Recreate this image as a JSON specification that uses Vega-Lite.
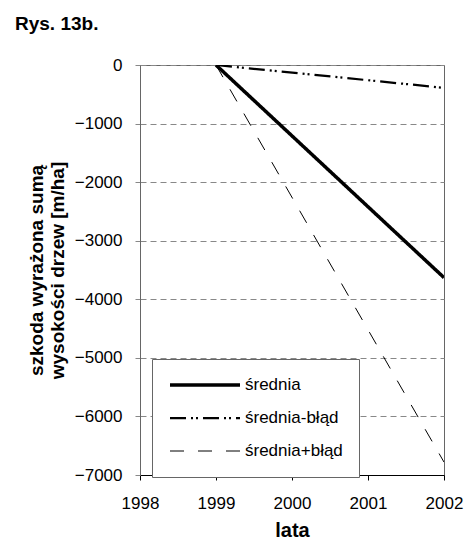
{
  "$schema": "https://vega.github.io/schema/vega-lite/v6.json",
  "width": 304,
  "height": 410,
  "autosize": {"type": "none"},
  "padding": {"left": 140, "top": 65, "right": 22, "bottom": 73},
  "background": "white",
  "config": {
    "font": "Liberation Sans",
    "view": {"stroke": "#666", "strokeWidth": 1}
  },
  "title": {
    "text": "Rys. 13b.",
    "anchor": "start",
    "frame": "group",
    "dx": -125,
    "dy": -18,
    "fontSize": 19,
    "fontWeight": "bold",
    "font": "Liberation Sans",
    "color": "black"
  },
  "data": {
    "values": [
      {"seria": "średnia", "rok": 1999, "wartosc": 0},
      {"seria": "średnia", "rok": 2002, "wartosc": -3630},
      {"seria": "średnia-błąd", "rok": 1999, "wartosc": 0},
      {"seria": "średnia-błąd", "rok": 2002, "wartosc": -390},
      {"seria": "średnia+błąd", "rok": 1999, "wartosc": 0},
      {"seria": "średnia+błąd", "rok": 2002, "wartosc": -6780}
    ]
  },
  "mark": {"type": "line", "color": "black", "clip": true},
  "encoding": {
    "x": {
      "field": "rok",
      "type": "quantitative",
      "scale": {"domain": [1998, 2002], "nice": false, "zero": false},
      "axis": {
        "values": [1998, 1999, 2000, 2001, 2002],
        "format": "d",
        "grid": false,
        "title": "lata",
        "titleFontSize": 20,
        "titleFontWeight": "bold",
        "titleColor": "black",
        "titlePadding": 9,
        "labelFontSize": 17,
        "labelColor": "black",
        "labelPadding": 15,
        "tickColor": "black",
        "domainColor": "black",
        "labelFlush": false
      }
    },
    "y": {
      "field": "wartosc",
      "type": "quantitative",
      "scale": {"domain": [-7000, 0], "nice": false},
      "axis": {
        "values": [0, -1000, -2000, -3000, -4000, -5000, -6000, -7000],
        "format": "d",
        "grid": true,
        "gridColor": "#888",
        "gridDash": [6, 4],
        "gridWidth": 1,
        "title": ["szkoda wyrażona sumą", "wysokości drzew [m/ha]"],
        "titleFontSize": 19,
        "titleLineHeight": 21,
        "titleFontWeight": "bold",
        "titleColor": "black",
        "titlePadding": 7,
        "labelFontSize": 17,
        "labelColor": "black",
        "labelPadding": 13,
        "tickSize": 5,
        "tickColor": "#888",
        "domainColor": "#666",
        "labelFlush": false
      }
    },
    "strokeDash": {
      "field": "seria",
      "type": "nominal",
      "scale": {
        "domain": ["średnia", "średnia-błąd", "średnia+błąd"],
        "range": [[1, 0], [16, 5, 2, 3, 2, 5], [14, 14]]
      },
      "legend": {
        "orient": "none",
        "legendX": 12,
        "legendY": 294,
        "title": null,
        "symbolType": "stroke",
        "symbolSize": 4900,
        "clipHeight": 20,
        "symbolStrokeColor": "black",
        "labelFontSize": 17,
        "labelColor": "black",
        "labelOffset": 3,
        "rowPadding": 13,
        "strokeColor": "#666",
        "fillColor": "white",
        "padding": 16
      }
    },
    "strokeWidth": {
      "field": "seria",
      "type": "nominal",
      "scale": {
        "domain": ["średnia", "średnia-błąd", "średnia+błąd"],
        "range": [3.5, 1, 1]
      },
      "legend": {
        "orient": "none",
        "legendX": 12,
        "legendY": 294,
        "title": null,
        "symbolType": "stroke",
        "symbolSize": 4900,
        "clipHeight": 20,
        "symbolStrokeColor": "black",
        "labelFontSize": 17,
        "labelColor": "black",
        "labelOffset": 3,
        "rowPadding": 13,
        "strokeColor": "#666",
        "fillColor": "white",
        "padding": 16
      }
    }
  }
}
